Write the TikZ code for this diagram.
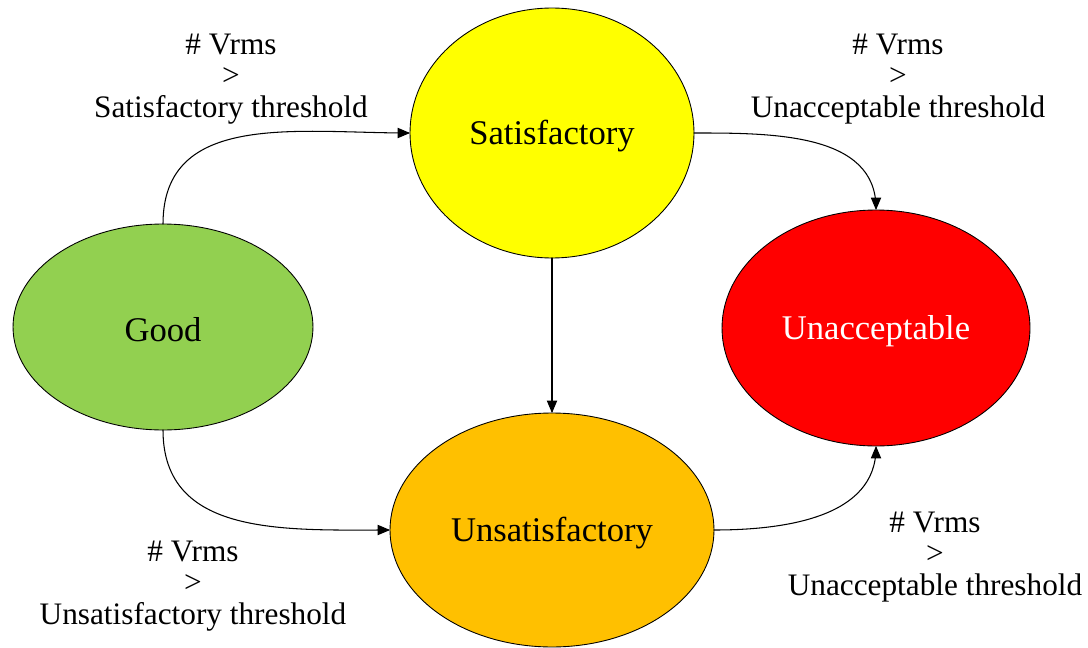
\documentclass[tikz,border=0pt]{standalone}
\usepackage{fontspec}
\setmainfont{Liberation Serif}
\usetikzlibrary{arrows,shapes.geometric}
\usepackage{xcolor}

\definecolor{goodgreen}{RGB}{146,208,80}
\definecolor{satyellow}{RGB}{255,255,0}
\definecolor{unsatorange}{RGB}{255,192,0}
\definecolor{unaccred}{RGB}{255,0,0}

% state names sit a little low in their ellipses
\newcommand{\statename}[1]{\raisebox{-1.7pt}[\height][\depth]{#1}}

\tikzset{
  state/.style={ellipse,draw,line width=0.5pt,inner sep=0pt,outer sep=0pt,
    font=\fontsize{19.7pt}{22pt}\selectfont},
  cond/.style={align=center,font=\fontsize{17.8pt}{18.1pt}\selectfont},
}

\begin{document}
\begin{tikzpicture}[line cap=round,line join=round,>=triangle 45,x=0.02cm,y=0.02cm]
\useasboundingbox (0,0) rectangle (1088,647);

% the four states
\node [state,fill=goodgreen,minimum width=6cm,minimum height=4.12cm] (good) at (163,320) {\statename{Good}};
\node [state,fill=satyellow,minimum width=5.68cm,minimum height=5cm] (sat) at (552,514) {\statename{Satisfactory}};
\node [state,fill=unsatorange,minimum width=6.48cm,minimum height=4.68cm] (unsat) at (552,117) {\statename{Unsatisfactory}};
\node [state,fill=unaccred,text=white,minimum width=6.16cm,minimum height=4.72cm] (unacc) at (876,319) {\statename{Unacceptable}};

% transitions
\draw [->,line width=0.6pt] (good.north) to [out=90,in=180,looseness=1.1] (sat.west);
\draw [->,line width=0.6pt] (sat.east) to [out=0,in=90] (unacc.north);
\draw [->,line width=0.6pt] (sat.south) -- (unsat.north);
\draw [->,line width=0.6pt] (good.south) to [out=-90,in=180,looseness=1.1] (unsat.west);
\draw [->,line width=0.6pt] (unsat.east) to [out=0,in=-90] (unacc.south);

% conditions
\node [cond] (c1) at (231,568) {\# Vrms\\>\\Satisfactory threshold};
\node [cond] (c2) at (898,568) {\# Vrms\\>\\Unacceptable threshold};
\node [cond] (c3) at (193,61) {\# Vrms\\>\\Unsatisfactory threshold};
\node [cond] (c4) at (935,90) {\# Vrms\\>\\Unacceptable threshold};
\end{tikzpicture}
\end{document}
